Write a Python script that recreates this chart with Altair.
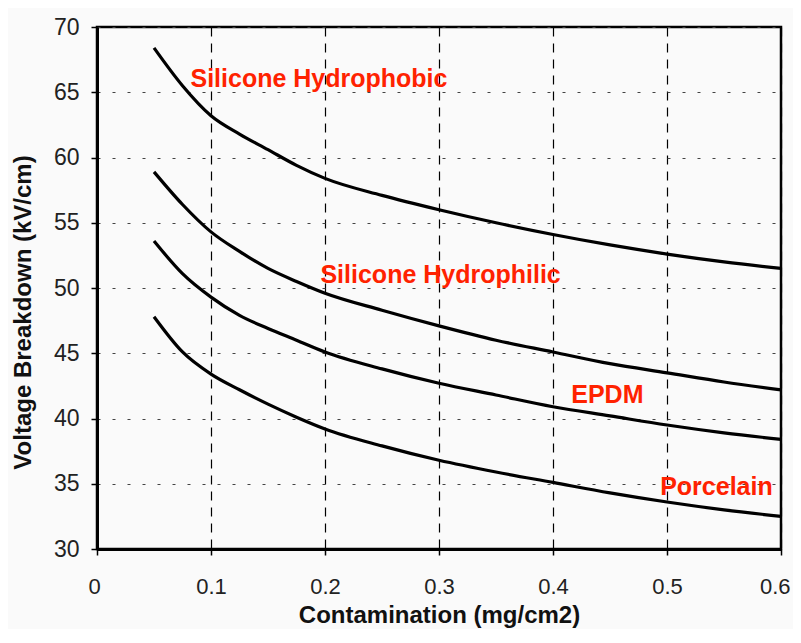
import altair as alt
import pandas as pd

x_vals = [0.05, 0.075, 0.1, 0.125, 0.15, 0.175, 0.2, 0.25, 0.3, 0.35, 0.4, 0.45, 0.5, 0.55, 0.6]
hydrophobic = [68.4, 65.5, 63.2, 61.8, 60.6, 59.4, 58.4, 57.1, 56.0, 55.0, 54.1, 53.3, 52.6, 52.0, 51.5]
hydrophilic = [58.9, 56.4, 54.3, 52.8, 51.5, 50.5, 49.6, 48.3, 47.1, 46.0, 45.1, 44.2, 43.5, 42.8, 42.2]
epdm = [53.6, 51.1, 49.3, 47.9, 46.9, 46.0, 45.1, 43.8, 42.7, 41.8, 40.9, 40.2, 39.5, 38.9, 38.4]
porcelain = [47.8, 45.1, 43.4, 42.2, 41.1, 40.1, 39.2, 37.9, 36.8, 35.9, 35.1, 34.3, 33.6, 33.0, 32.5]

series_names = ["Silicone Hydrophobic", "Silicone Hydrophilic", "EPDM", "Porcelain"]
series_vals = [hydrophobic, hydrophilic, epdm, porcelain]

label_texts = ["Silicone Hydrophobic", "Silicone Hydrophilic", "EPDM", "Porcelain"]
label_x = [0.082, 0.196, 0.416, 0.494]
label_y = [66.0, 51.0, 41.8, 34.75]

x_ticks = [0, 0.1, 0.2, 0.3, 0.4, 0.5, 0.6]
y_ticks = [30, 35, 40, 45, 50, 55, 60, 65, 70]

rows = []
for name, vals in zip(series_names, series_vals):
    for xv, yv in zip(x_vals, vals):
        rows.append({"series": name, "x": xv, "y": yv})
df = pd.DataFrame(rows)
labels_df = pd.DataFrame({"text": label_texts, "x": label_x, "y": label_y})

FONT = "Liberation Sans"

x_enc = alt.X("x:Q", scale=alt.Scale(domain=[0, 0.6], nice=False),
              axis=alt.Axis(values=x_ticks, title="Contamination (mg/cm2)",
                            labelExpr="datum.value == 0 ? '0' : format(datum.value, '.1f')",
                            labelFlush=True, labelFlushOffset=9, labelOverlap=False, labelFontSize=22,
                            grid=True, gridDash=[9, 7], gridColor="#000000", gridWidth=1.2,
                            tickSize=6, labelPadding=21, titlePadding=6))
y_enc = alt.Y("y:Q", scale=alt.Scale(domain=[30, 70], nice=False),
              axis=alt.Axis(values=y_ticks, title="Voltage Breakdown (kV/cm)",
                            labelFlush=False, labelOverlap=False,
                            grid=True, gridDash=[3, 12], gridColor="#444444", gridWidth=1,
                            tickSize=6, labelPadding=12, titlePadding=18, titleY=285))

lines = alt.Chart(df).mark_line(color="black", strokeWidth=3.2, interpolate="monotone").encode(
    x=x_enc, y=y_enc, detail="series:N"
)

texts = alt.Chart(labels_df).mark_text(
    align="left", baseline="middle", color="#ff2200", font=FONT, fontSize=25, fontWeight="bold"
).encode(x="x:Q", y="y:Q", text="text:N")

chart = alt.layer(lines, texts).properties(
    width=684, height=522,
    autosize=alt.AutoSizeParams(type="none"),
    padding={"left": 89, "top": 19, "right": 12, "bottom": 80},
    background="#fafafa",
).configure_view(
    stroke="black", strokeWidth=2.5
).configure_axis(
    labelFont=FONT, labelFontSize=23, labelColor="#222222",
    titleFont=FONT, titleFontSize=24, titleFontWeight="bold", titleColor="#111111",
    domainColor="black", domainWidth=3, tickColor="black", tickWidth=1.5,
)

chart.save("out.html", embed_options={"renderer": "svg", "actions": False})
